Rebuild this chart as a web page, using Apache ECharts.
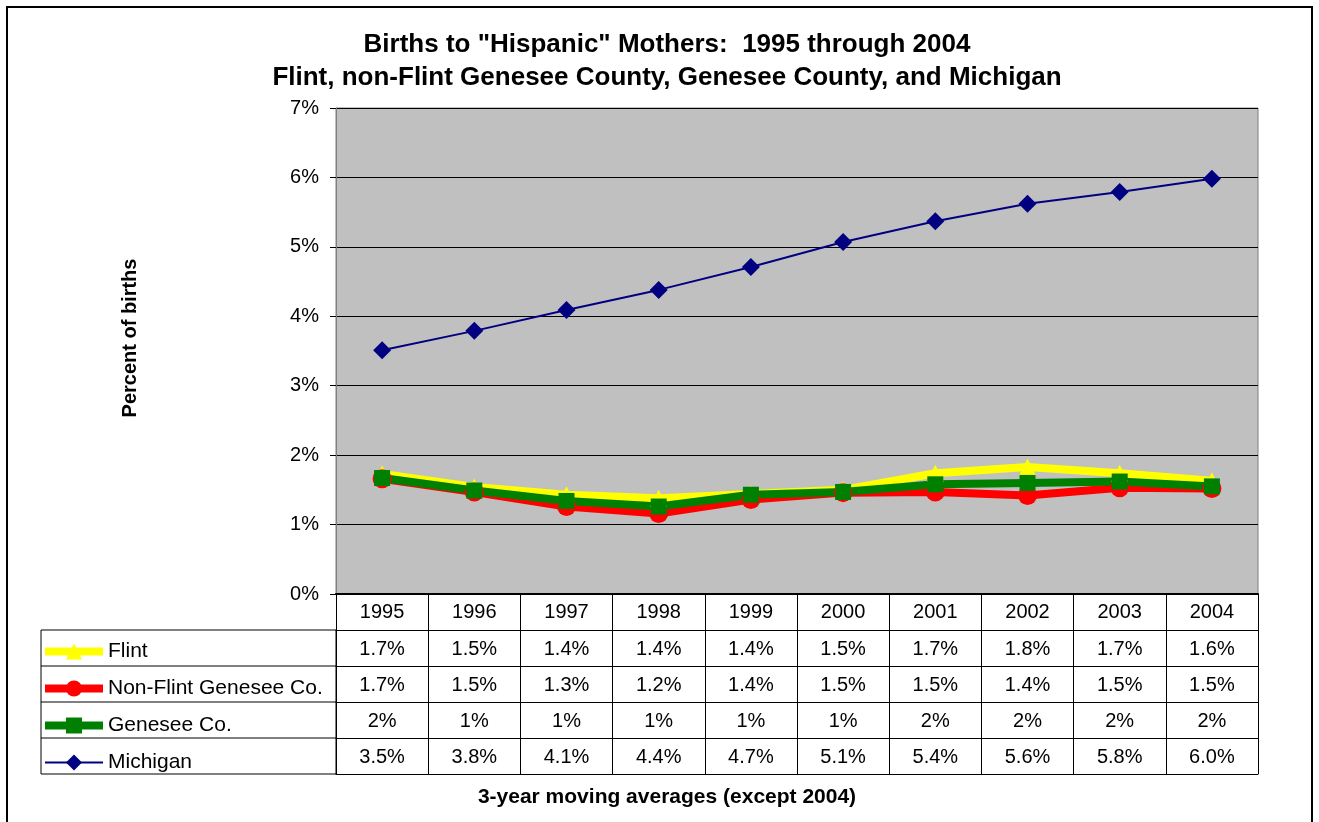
<!DOCTYPE html>
<html>
<head>
<meta charset="utf-8">
<script src="https://cdn.jsdelivr.net/npm/echarts@6/dist/echarts.min.js"></script>
<style>
  html, body { margin: 0; padding: 0; background: #fff; }
  #main { width: 1319px; height: 822px; }
</style>
</head>
<body>
<div id="main"></div>
<script>
// years on the category axis
var years = ['1995', '1996', '1997', '1998', '1999', '2000', '2001', '2002', '2003', '2004'];
var yTicks = [0, 1, 2, 3, 4, 5, 6, 7];

// percent of births
var flint     = [1.73, 1.54, 1.43, 1.38, 1.44, 1.50, 1.74, 1.83, 1.74, 1.63];
var nonFlint  = [1.66, 1.47, 1.26, 1.16, 1.36, 1.46, 1.47, 1.42, 1.53, 1.52];
var genesee   = [1.67, 1.49, 1.34, 1.26, 1.43, 1.47, 1.58, 1.60, 1.62, 1.55];
var michigan  = [3.51, 3.79, 4.09, 4.38, 4.71, 5.07, 5.37, 5.62, 5.79, 5.98];

var seriesNames = ['Flint', 'Non-Flint Genesee Co.', 'Genesee Co.', 'Michigan'];
var tableDecimals = [1, 1, 0, 1];
var lineWidths = [8, 8, 8, 2];

var FONT = '"Liberation Sans", Arial, sans-serif';
var ROW = 36;

var chart = {
	init: function(){
		var myChart = echarts.init(document.getElementById('main'));
		myChart.setOption(chart.getOption());
	},
	fmt: function(arr, dec){
		return function(value, idx){
			return arr[idx].toFixed(dec) + '%';
		};
	},
	tableAxis: function(offset, arr, dec, showTicks){
		return {
			type: 'category',
			data: years,
			position: 'bottom',
			offset: offset,
			boundaryGap: true,
			axisLine: { show: true, lineStyle: { color: '#000', width: 1 } },
			axisTick: { show: showTicks, inside: false, length: ROW, lineStyle: { color: '#000', width: 1 } },
			axisLabel: {
				show: !!arr,
				margin: 9,
				color: '#000',
				fontFamily: FONT,
				fontSize: 20,
				formatter: arr ? chart.fmt(arr, dec) : null
			},
			splitLine: { show: false }
		};
	},
	getOption: function(){
		var xAxes = [
			{
				type: 'category',
				data: years,
				position: 'bottom',
				boundaryGap: true,
				axisLine: { show: true, lineStyle: { color: '#000', width: 2 } },
				axisTick: { show: true, inside: false, length: ROW, lineStyle: { color: '#000', width: 1 } },
				axisLabel: { margin: 8, color: '#000', fontFamily: FONT, fontSize: 20 }
			},
			chart.tableAxis(ROW, flint, tableDecimals[0], true),
			chart.tableAxis(ROW * 2, nonFlint, tableDecimals[1], true),
			chart.tableAxis(ROW * 3, genesee, tableDecimals[2], true),
			chart.tableAxis(ROW * 4, michigan, tableDecimals[3], true),
			chart.tableAxis(ROW * 5, null, 0, false)
		];

		var legendData = seriesNames.map(function(n, i){
			return { name: n, lineStyle: { width: lineWidths[i] } };
		});

		var option = {
			animation: false,
			backgroundColor: '#fff',
			textStyle: { fontFamily: FONT },
			title: {
				text: 'Births to "Hispanic" Mothers:  1995 through 2004\nFlint, non-Flint Genesee County, Genesee County, and Michigan',
				left: 662,
				textAlign: 'center',
				top: 23,
				textStyle: { fontFamily: FONT, fontSize: 26, fontWeight: 'bold', color: '#000', lineHeight: 33 }
			},
			legend: {
				orient: 'vertical',
				left: 41,
				top: 641,
				padding: 0,
				itemWidth: 58,
				itemHeight: 20,
				itemGap: 16,
				selectedMode: false,
				data: legendData,
				textStyle: { fontFamily: FONT, fontSize: 21, color: '#000', lineHeight: 20 }
			},
			grid: {
				left: 336,
				right: 61,
				top: 108,
				bottom: 228,
				show: true,
				backgroundColor: '#C0C0C0',
				borderColor: '#808080',
				borderWidth: 1
			},
			xAxis: xAxes,
			yAxis: {
				type: 'value',
				min: yTicks[0],
				max: yTicks[yTicks.length - 1],
				interval: 1,
				axisLine: { show: true, lineStyle: { color: '#808080' } },
				axisTick: { show: true, inside: false, length: 6, lineStyle: { color: '#000' } },
				axisLabel: { margin: 17, color: '#000', fontFamily: FONT, fontSize: 20, formatter: '{value}%' },
				splitLine: { show: true, lineStyle: { color: '#000', width: 1 } }
			},
			graphic: [
				{ type: 'rect', shape: { x: 7, y: 7, width: 1305, height: 830 }, style: { fill: 'none', stroke: '#000', lineWidth: 2 }, silent: true },
				{ type: 'rect', shape: { x: 41, y: 630, width: 295, height: ROW * 4 }, style: { fill: 'none', stroke: '#000', lineWidth: 1 }, silent: true },
				{ type: 'line', shape: { x1: 41, y1: 630 + ROW, x2: 336, y2: 630 + ROW }, style: { stroke: '#000', lineWidth: 1 }, silent: true },
				{ type: 'line', shape: { x1: 41, y1: 630 + ROW * 2, x2: 336, y2: 630 + ROW * 2 }, style: { stroke: '#000', lineWidth: 1 }, silent: true },
				{ type: 'line', shape: { x1: 41, y1: 630 + ROW * 3, x2: 336, y2: 630 + ROW * 3 }, style: { stroke: '#000', lineWidth: 1 }, silent: true },
				{
					type: 'text', x: 130, y: 338, rotation: Math.PI / 2,
					style: { text: 'Percent of births', fontFamily: FONT, fontSize: 20, fontWeight: 'bold', fill: '#000', align: 'center', verticalAlign: 'middle' }
				},
				{
					type: 'text', x: 667, y: 797,
					style: { text: '3-year moving averages (except 2004)', fontFamily: FONT, fontSize: 21, fontWeight: 'bold', fill: '#000', align: 'center', verticalAlign: 'middle' }
				}
			],
			series: [
				{
					name: seriesNames[0], type: 'line', data: flint,
					symbol: 'triangle', symbolSize: 17,
					itemStyle: { color: '#FFFF00' },
					lineStyle: { color: '#FFFF00', width: lineWidths[0] }
				},
				{
					name: seriesNames[1], type: 'line', data: nonFlint,
					symbol: 'circle', symbolSize: 19,
					itemStyle: { color: '#FF0000' },
					lineStyle: { color: '#FF0000', width: lineWidths[1] }
				},
				{
					name: seriesNames[2], type: 'line', data: genesee,
					symbol: 'rect', symbolSize: 16,
					itemStyle: { color: '#008000' },
					lineStyle: { color: '#008000', width: lineWidths[2] }
				},
				{
					name: seriesNames[3], type: 'line', data: michigan,
					symbol: 'diamond', symbolSize: 18,
					itemStyle: { color: '#000080' },
					lineStyle: { color: '#000080', width: lineWidths[3] }
				}
			]
		};
		return option;
	}
};

chart.init();
</script>
</body>
</html>
